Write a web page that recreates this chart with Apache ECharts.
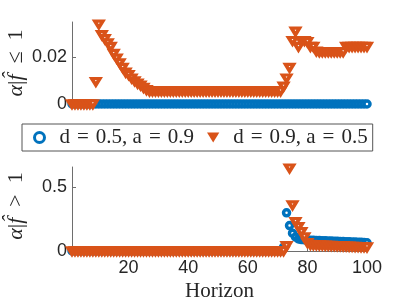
<!DOCTYPE html>
<html><head><meta charset="utf-8">
<script src="https://cdn.jsdelivr.net/npm/echarts@6/dist/echarts.min.js"></script>
<style>html,body{margin:0;padding:0;background:#fff}#c{width:407px;height:305px}</style>
</head><body><div id="c"></div>
<script>
const horizon = Array.from({length: 100}, (_, i) => i + 1);
const xTicks = [20, 40, 60, 80, 100];
const topTicks = [0, 0.02];
const botTicks = [0, 0.5];
const seriesNames = ['d = 0.5, a = 0.9', 'd = 0.9, a = 0.5'];

const topBlue = [
0,0,0,0,0,0,0,0,0,0, 0,0,0,0,0,0,0,0,0,0,
0,0,0,0,0,0,0,0,0,0, 0,0,0,0,0,0,0,0,0,0,
0,0,0,0,0,0,0,0,0,0, 0,0,0,0,0,0,0,0,0,0,
0,0,0,0,0,0,0,0,0,0, 0,0,0,0,0,0,0,0,0,0,
0,0,0,0,0,0,0,0,0,0, 0,0,0,0,0,0,0,0,0,0];
const topOrange = [
0,0,0,0,0,0,0,0,0.0095,0.034,
0.0295,0.0278,0.026,0.0245,0.0215,0.0195,0.0175,0.0155,0.0135,0.0125,
0.011,0.0098,0.0088,0.008,0.007,0.006,0.0055,0.0055,0.0055,0.0055,
0.0055,0.0055,0.0055,0.0055,0.0055,0.0055,0.0055,0.0055,0.0055,0.0055,
0.0055,0.0055,0.0055,0.0055,0.0055,0.0055,0.0055,0.0055,0.0055,0.0055,
0.0055,0.0055,0.0055,0.0055,0.0055,0.0055,0.0055,0.0055,0.0055,0.0055,
0.0055,0.0055,0.0055,0.0055,0.0055,0.0055,0.0055,0.0055,0.0055,0.0055,
0.0055,0.0075,0.011,0.0155,0.027,0.031,0.0245,0.027,0.027,0.0265,
0.0245,0.0245,0.0225,0.0222,0.0222,0.0222,0.0222,0.0222,0.0222,0.0222,
0.0222,0.0222,0.0245,0.0245,0.0245,0.0245,0.0245,0.0245,0.0245,0.0245];
const botBlue = [
0,0,0,0,0,0,0,0,0,0, 0,0,0,0,0,0,0,0,0,0,
0,0,0,0,0,0,0,0,0,0, 0,0,0,0,0,0,0,0,0,0,
0,0,0,0,0,0,0,0,0,0, 0,0,0,0,0,0,0,0,0,0,
0,0,0,0,0,0,0,0,0,0, 0,0.03,0.3,0.2,0.14,0.11,0.095,0.09,0.088,0.086,
0.085,0.084,0.083,0.082,0.081,0.08,0.079,0.078,0.077,0.076,
0.075,0.074,0.073,0.072,0.071,0.07,0.069,0.068,0.066,0.064];
const botOrange = [
0,0,0,0,0,0,0,0,0,0, 0,0,0,0,0,0,0,0,0,0,
0,0,0,0,0,0,0,0,0,0, 0,0,0,0,0,0,0,0,0,0,
0,0,0,0,0,0,0,0,0,0, 0,0,0,0,0,0,0,0,0,0,
0,0,0,0,0,0,0,0,0,0, 0,0,0.04,0.65,0.36,0.23,0.19,0.15,0.11,0.065,
0.05,0.048,0.047,0.046,0.045,0.044,0.043,0.042,0.041,0.04,
0.039,0.038,0.037,0.036,0.035,0.034,0.033,0.032,0.031,0.03];

const BLUE = '#0072BD', ORANGE = '#D95319', AX = '#6e6e6e', TXT = '#262626';
const TRI = 'path://M0,0 L8,0 L4,6.5 Z';
const pairs = (ys) => horizon.map((x, i) => [x, ys[i]]);

const chart = echarts.init(document.getElementById('c'), null, {renderer: 'canvas'});
const tickFont = {fontFamily: 'Liberation Sans', fontSize: 18, color: TXT};
const richName = {
  n: {fontFamily: 'Liberation Serif', fontSize: 22, fill: TXT, color: TXT},
  i: {fontFamily: 'Liberation Serif', fontStyle: 'italic', fontSize: 22, fill: TXT, color: TXT}
};

function xAx(idx, showLabels) {
  return {type: 'value', gridIndex: idx, min: 1, max: 100,
    axisLine: {show: true, lineStyle: {color: AX, width: 1}},
    axisTick: {show: true, inside: true, length: 4, customValues: xTicks, lineStyle: {color: AX}},
    axisLabel: {show: showLabels, customValues: xTicks, margin: 8, ...tickFont},
    splitLine: {show: false},
    name: showLabels ? 'Horizon' : '', nameLocation: 'middle', nameGap: 30,
    nameTextStyle: {fontFamily: 'Liberation Serif', fontSize: 21, color: TXT}};
}
function yAx(idx, max, ticks) {
  return {type: 'value', gridIndex: idx, min: 0, max: max,
    axisLine: {show: true, lineStyle: {color: AX, width: 1}},
    axisTick: {show: true, inside: true, length: 4, customValues: ticks, lineStyle: {color: AX}},
    axisLabel: {customValues: ticks, margin: 5, ...tickFont},
    splitLine: {show: false}};
}
function sc(name, data, xi, isTri) {
  return {type: 'scatter', name: name, xAxisIndex: xi, yAxisIndex: xi, data: data,
    clip: false, silent: true, animation: false,
    symbol: isTri ? TRI : 'circle', symbolSize: isTri ? [8, 6.5] : 6,
    itemStyle: {color: '#fff', borderColor: isTri ? ORANGE : BLUE, borderWidth: 3.5,
      borderJoin: 'miter', opacity: 1}};
}
function yName(text, cx, cy) {
  return {type: 'text', x: cx, y: cy, rotation: Math.PI / 2, silent: true,
    style: {text: text, rich: richName, fontFamily: 'Liberation Serif', fontSize: 22,
      fill: TXT, align: 'center', verticalAlign: 'middle'}};
}

chart.setOption({
  animation: false,
  grid: [
    {left: 72, top: 22, width: 295, height: 82},
    {left: 72, top: 167, width: 295, height: 84}
  ],
  xAxis: [xAx(0, false), xAx(1, true)],
  yAxis: [yAx(0, 0.035, topTicks), yAx(1, 0.66, botTicks)],
  graphic: [
    yName('{i|α}{n||}{i|f̂}{n|\u2002≤\u20021}', 16, 63),
    yName('{i|α}{n||}{i|f̂}{n|\u2002>\u20021}', 16, 206)
  ],
  legend: {
    left: 22, top: 124, orient: 'horizontal',
    padding: [3, 5, 3, 11], itemGap: 13, itemWidth: 20, itemHeight: 10,
    borderColor: '#555', borderWidth: 1, backgroundColor: '#fff',
    formatter: (n) => n.replace(/ = /g, '\u2004=\u2004'),
    textStyle: {fontFamily: 'Liberation Serif', fontSize: 21, color: TXT, padding: [0, 0, 0, 5]},
    data: [
      {name: seriesNames[0], icon: 'circle', itemStyle: {color: '#fff', borderColor: BLUE, borderWidth: 3}},
      {name: seriesNames[1], icon: TRI, itemStyle: {color: ORANGE, borderColor: ORANGE, borderWidth: 0}}
    ]
  },
  series: [
    sc(seriesNames[0], pairs(topBlue), 0, false),
    sc(seriesNames[1], pairs(topOrange), 0, true),
    sc(seriesNames[0], pairs(botBlue), 1, false),
    sc(seriesNames[1], pairs(botOrange), 1, true)
  ]
});
</script></body></html>
